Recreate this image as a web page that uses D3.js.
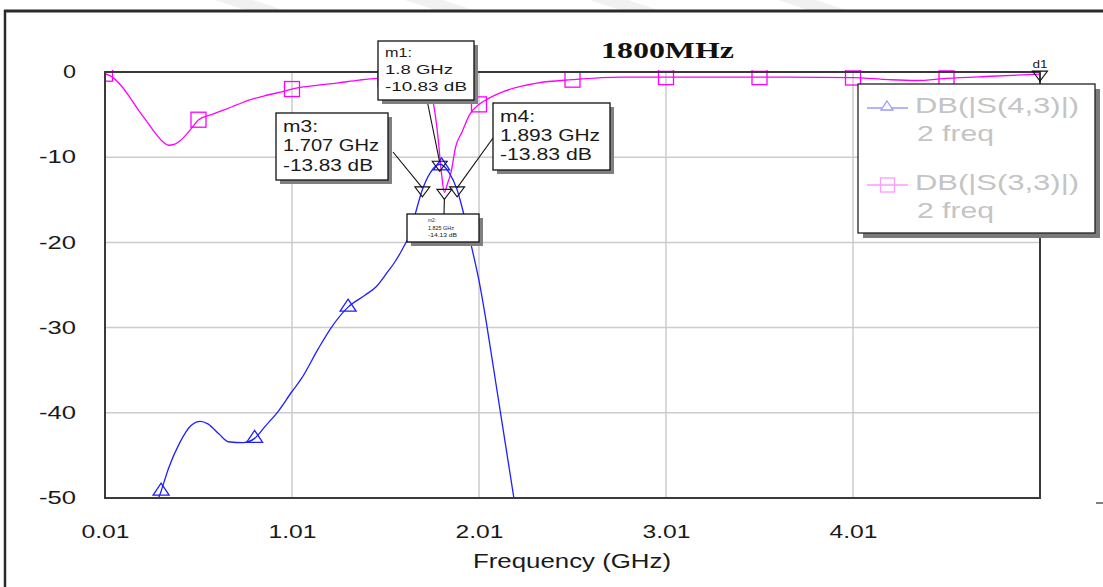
<!DOCTYPE html>
<html><head><meta charset="utf-8">
<script src="https://cdn.jsdelivr.net/npm/d3@7"></script>
<style>body{margin:0;background:#fff}svg{display:block}</style>
</head><body><svg id="c" width="1103" height="587"></svg>
<script>
// ---------------- data ----------------
const xTicks = [0.01, 1.01, 2.01, 3.01, 4.01];
const yTicks = [0, -10, -20, -30, -40, -50];
const titleText = "1800MHz";
const xLabel = "Frequency (GHz)";

// DB(|S(4,3)|)
const s43Freq = [0.25,0.29,0.31,0.35,0.41,0.47,0.52,0.56,0.62,0.67,0.75,0.81,0.87,0.93,1.01,1.06,1.15,1.22,1.31,1.40,1.46,1.52,1.56,1.60,1.64,1.67,1.707,1.75,1.80,1.85,1.893,1.93,1.97,2.01,2.05,2.10,2.15,2.20,2.23];
const s43Db   = [-56,-50.5,-49.2,-46.5,-43.5,-41.5,-41.0,-41.3,-42.5,-43.4,-43.5,-43.0,-41.5,-40.0,-37.5,-36.0,-32.5,-30.0,-27.6,-26.2,-25.2,-23.5,-22.3,-20.8,-19.0,-16.6,-13.83,-11.8,-10.83,-11.8,-13.83,-16.8,-20.5,-24.5,-29.5,-36.5,-43.5,-50.5,-55];
// DB(|S(3,3)|)
const s33Freq = [0.01,0.05,0.10,0.15,0.19,0.24,0.28,0.32,0.35,0.38,0.41,0.45,0.48,0.51,0.58,0.64,0.71,0.78,0.88,0.98,1.01,1.13,1.25,1.37,1.47,1.56,1.65,1.70,1.74,1.765,1.79,1.81,1.825,1.84,1.86,1.885,1.92,1.96,2.01,2.03,2.14,2.32,2.51,2.77,3.01,3.51,4.01,4.20,4.35,4.51,4.75,5.01];
const s33Db   = [-0.2,-0.6,-1.7,-3.2,-4.5,-6.0,-7.2,-8.2,-8.6,-8.5,-8.1,-7.2,-6.4,-5.6,-5.0,-4.5,-3.9,-3.3,-2.7,-2.2,-2.0,-1.6,-1.3,-0.95,-0.75,-0.7,-0.9,-1.4,-2.4,-3.6,-7.5,-12.0,-14.13,-13.2,-11.8,-8.8,-7.0,-5.0,-3.8,-3.5,-2.3,-1.3,-0.9,-0.6,-0.6,-0.6,-0.65,-0.9,-1.0,-0.75,-0.5,-0.25];

const s43MarkFreq = [0.31, 0.81, 1.31, 1.81, 2.31];
const s33MarkFreq = [0.01, 0.51, 1.01, 1.51, 2.01, 2.51, 3.01, 3.51, 4.01, 4.51];

// markers
const mkNames = ["m1", "m2", "m3", "m4", "d1"];
const mkFreq  = [1.8, 1.825, 1.707, 1.893, 5.01];
const mkDb    = [-10.83, -14.13, -13.83, -13.83, -0.25];
const mkFreqTxt = ["1.8 GHz", "1.825 GHz", "1.707 GHz", "1.893 GHz", ""];
const mkDbTxt   = ["-10.83 dB", "-14.13 dB", "-13.83 dB", "-13.83 dB", ""];

const legendNames = ["DB(|S(4,3)|)", "DB(|S(3,3)|)"];
const legendSub = ["2 freq", "2 freq"];

// ---------------- layout ----------------
const svg = d3.select("#c");
const L = 105, R = 1040, T = 72, B = 498;
const x = d3.scaleLinear().domain([0.01, 5.01]).range([L, R]);
const y = d3.scaleLinear().domain([-50, 0]).range([B, T]);
const BLUE = "#1f1fff", MAG = "#ff00ff";
const FONT = "'Liberation Sans', Arial, sans-serif";

svg.append("rect").attr("width", 1103).attr("height", 587).attr("fill", "#fff");

// faint watermark bands at top
[[215, 0], [405, 0], [590, 0], [778, 0]].forEach(([px]) => {
  svg.append("polygon")
    .attr("points", `${px},0 ${px+38},0 ${px+68},10 ${px+30},10`)
    .attr("fill", "#f1f1f1");
});

// outer frame
svg.append("line").attr("x1", 4).attr("x2", 1103).attr("y1", 11).attr("y2", 11)
  .attr("stroke", "#2a2a2a").attr("stroke-width", 3);
svg.append("line").attr("x1", 5).attr("x2", 5).attr("y1", 10).attr("y2", 587)
  .attr("stroke", "#2a2a2a").attr("stroke-width", 2.5);
svg.append("line").attr("x1", 1096).attr("x2", 1103).attr("y1", 503).attr("y2", 503)
  .attr("stroke", "#555").attr("stroke-width", 1.5);

function txt(g, s, px, py, size, width, opts = {}) {
  const t = g.append("text").attr("x", px).attr("y", py)
    .attr("font-family", opts.family || FONT)
    .attr("font-size", size)
    .attr("font-weight", opts.weight || "normal")
    .attr("fill", opts.fill || "#1a1a1a")
    .attr("text-anchor", opts.anchor || "start")
    .text(s);
  if (width) t.attr("textLength", width).attr("lengthAdjust", "spacingAndGlyphs");
  return t;
}

// grid
const grid = svg.append("g");
grid.selectAll(".vg").data(xTicks.slice(1)).join("line")
  .attr("x1", d => x(d)).attr("x2", d => x(d)).attr("y1", T).attr("y2", B)
  .attr("stroke", "#cccccc").attr("stroke-width", 1.5);
grid.selectAll(".hg").data(yTicks.filter(d => d !== 0 && d !== -50)).join("line")
  .attr("x1", L).attr("x2", R).attr("y1", d => y(d)).attr("y2", d => y(d))
  .attr("stroke", "#cccccc").attr("stroke-width", 1.5);

// axes (labels)
const xa = svg.append("g").attr("transform", `translate(0,${B})`)
  .call(d3.axisBottom(x).tickValues(xTicks).tickSize(0).tickPadding(27).tickFormat(d3.format(".2f")));
xa.select(".domain").remove();
xa.selectAll("text").attr("font-family", FONT).attr("font-size", 18).attr("fill", "#1a1a1a")
  .attr("textLength", 48).attr("lengthAdjust", "spacingAndGlyphs");

const ya = svg.append("g").attr("transform", `translate(${L},0)`)
  .call(d3.axisLeft(y).tickValues(yTicks).tickSize(0).tickPadding(29).tickFormat(d => String(d)));
ya.select(".domain").remove();
ya.selectAll("text").attr("font-family", FONT).attr("font-size", 18).attr("fill", "#1a1a1a")
  .attr("textLength", d => d === 0 ? 13 : 37).attr("lengthAdjust", "spacingAndGlyphs");

txt(svg, xLabel, 572, 568, 21, 198, { anchor: "middle" });
txt(svg, titleText, 601, 58, 24, 133, { family: "'Liberation Serif', 'Times New Roman', serif", weight: "bold", fill: "#111" });

// clip
svg.append("clipPath").attr("id", "clip").append("rect")
  .attr("x", L).attr("y", T - 2).attr("width", R - L).attr("height", B - T + 2);

const plot = svg.append("g").attr("clip-path", "url(#clip)");
const line = d3.line().x(d => x(d[0])).y(d => y(d[1])).curve(d3.curveMonotoneX);
const s43 = s43Freq.map((f, i) => [f, s43Db[i]]);
const s33 = s33Freq.map((f, i) => [f, s33Db[i]]);

function interp(fs, vs, f) {
  for (let i = 0; i < fs.length - 1; i++) {
    if (f >= fs[i] && f <= fs[i + 1]) {
      const t = (f - fs[i]) / (fs[i + 1] - fs[i]);
      return vs[i] + t * (vs[i + 1] - vs[i]);
    }
  }
  return f < fs[0] ? vs[0] : vs[vs.length - 1];
}

plot.append("path").attr("d", line(s33)).attr("fill", "none").attr("stroke", MAG).attr("stroke-width", 1.3);
plot.append("path").attr("d", line(s43)).attr("fill", "none").attr("stroke", BLUE).attr("stroke-width", 1.3);

// series markers
plot.selectAll(".sq").data(s33MarkFreq).join("rect")
  .attr("x", d => x(d) - 7.5).attr("y", d => y(interp(s33Freq, s33Db, d)) - 7.5)
  .attr("width", 15).attr("height", 15)
  .attr("fill", "none").attr("stroke", MAG).attr("stroke-width", 1.3);
plot.selectAll(".tri").data(s43MarkFreq).join("path")
  .attr("d", d => { const px = x(d), py = y(interp(s43Freq, s43Db, d));
    return `M${px},${py - 8} L${px + 8},${py + 4} L${px - 8},${py + 4} Z`; })
  .attr("fill", "none").attr("stroke", BLUE).attr("stroke-width", 1.3);

// plot frame
svg.append("rect").attr("x", L).attr("y", T).attr("width", R - L).attr("height", B - T)
  .attr("fill", "none").attr("stroke", "#3a3a3a").attr("stroke-width", 2);

// data markers (inverted triangles) and their boxes
const mk = svg.append("g");
const boxes = [
  // [x, y, w, h, fontSize, lineStep, widths, leader from]
  { i: 0, bx: 378, by: 41, bw: 96, bh: 59, fs: 13, base: 57, step: 17, w: [27, 68, 82], from: [427, 100] },
  { i: 1, bx: 407, by: 214, bw: 72, bh: 28, fs: 6, base: 222, step: 7.5, w: [8, 26, 29], from: [444, 214], tx: 428 },
  { i: 2, bx: 276, by: 113, bw: 112, bh: 67, fs: 17, base: 132, step: 19.3, w: [35, 96, 90], from: [393, 152] },
  { i: 3, bx: 493, by: 103, bw: 117, bh: 67, fs: 17, base: 122, step: 19, w: [35, 100, 92], from: [493, 138] }
];

// leader lines
boxes.forEach(b => {
  const px = x(mkFreq[b.i]), py = y(mkDb[b.i]);
  mk.append("line").attr("x1", b.from[0]).attr("y1", b.from[1])
    .attr("x2", px).attr("y2", b.i === 1 ? py + 6 : py - 2)
    .attr("stroke", "#111").attr("stroke-width", 1.1);
});

// marker triangles
mkFreq.forEach((f, i) => {
  const px = x(f), py = y(mkDb[i]);
  mk.append("path").attr("d", `M${px - 7.5},${py - 3} L${px + 7.5},${py - 3} L${px},${py + 7} Z`)
    .attr("fill", "none").attr("stroke", "#111").attr("stroke-width", 1.1);
});
txt(mk, mkNames[4], x(mkFreq[4]), 68, 11, 15, { anchor: "middle" });

boxes.forEach(b => {
  mk.append("rect").attr("x", b.bx + 4).attr("y", b.by + 4).attr("width", b.bw).attr("height", b.bh).attr("fill", "#808080");
  mk.append("rect").attr("x", b.bx).attr("y", b.by).attr("width", b.bw).attr("height", b.bh)
    .attr("fill", "#fff").attr("stroke", "#111").attr("stroke-width", 1.3);
  const tx = b.tx || b.bx + 7;
  [mkNames[b.i] + ":", mkFreqTxt[b.i], mkDbTxt[b.i]].forEach((s, k) => {
    txt(mk, s, tx, b.base + k * b.step, b.fs, b.w[k]);
  });
});

// legend
const lg = svg.append("g");
lg.append("rect").attr("x", 863).attr("y", 89).attr("width", 237).attr("height", 149).attr("fill", "#7a7a7a");
lg.append("rect").attr("x", 858).attr("y", 84).attr("width", 237).attr("height", 149)
  .attr("fill", "#fff").attr("stroke", "#222").attr("stroke-width", 1.3);
const legCol = ["#9a9aff", "#ff9aff"];
const legY = [108, 185];
legendNames.forEach((n, i) => {
  const ly = legY[i];
  lg.append("line").attr("x1", 867).attr("x2", 908).attr("y1", ly).attr("y2", ly)
    .attr("stroke", legCol[i]).attr("stroke-width", 1.3);
  if (i === 0) {
    lg.append("path").attr("d", `M887,${ly - 7} L893,${ly + 2} L881,${ly + 2} Z`)
      .attr("fill", "#fff").attr("stroke", legCol[i]).attr("stroke-width", 1.3);
  } else {
    lg.append("rect").attr("x", 880.5).attr("y", ly - 7).attr("width", 14).attr("height", 14)
      .attr("fill", "none").attr("stroke", legCol[i]).attr("stroke-width", 1.3);
  }
  txt(lg, n, 915, ly + 5, 22, 164, { fill: "#c4c4c4" });
  txt(lg, legendSub[i], 917, ly + 33, 22, 77, { fill: "#c4c4c4" });
});
</script>
</body></html>
